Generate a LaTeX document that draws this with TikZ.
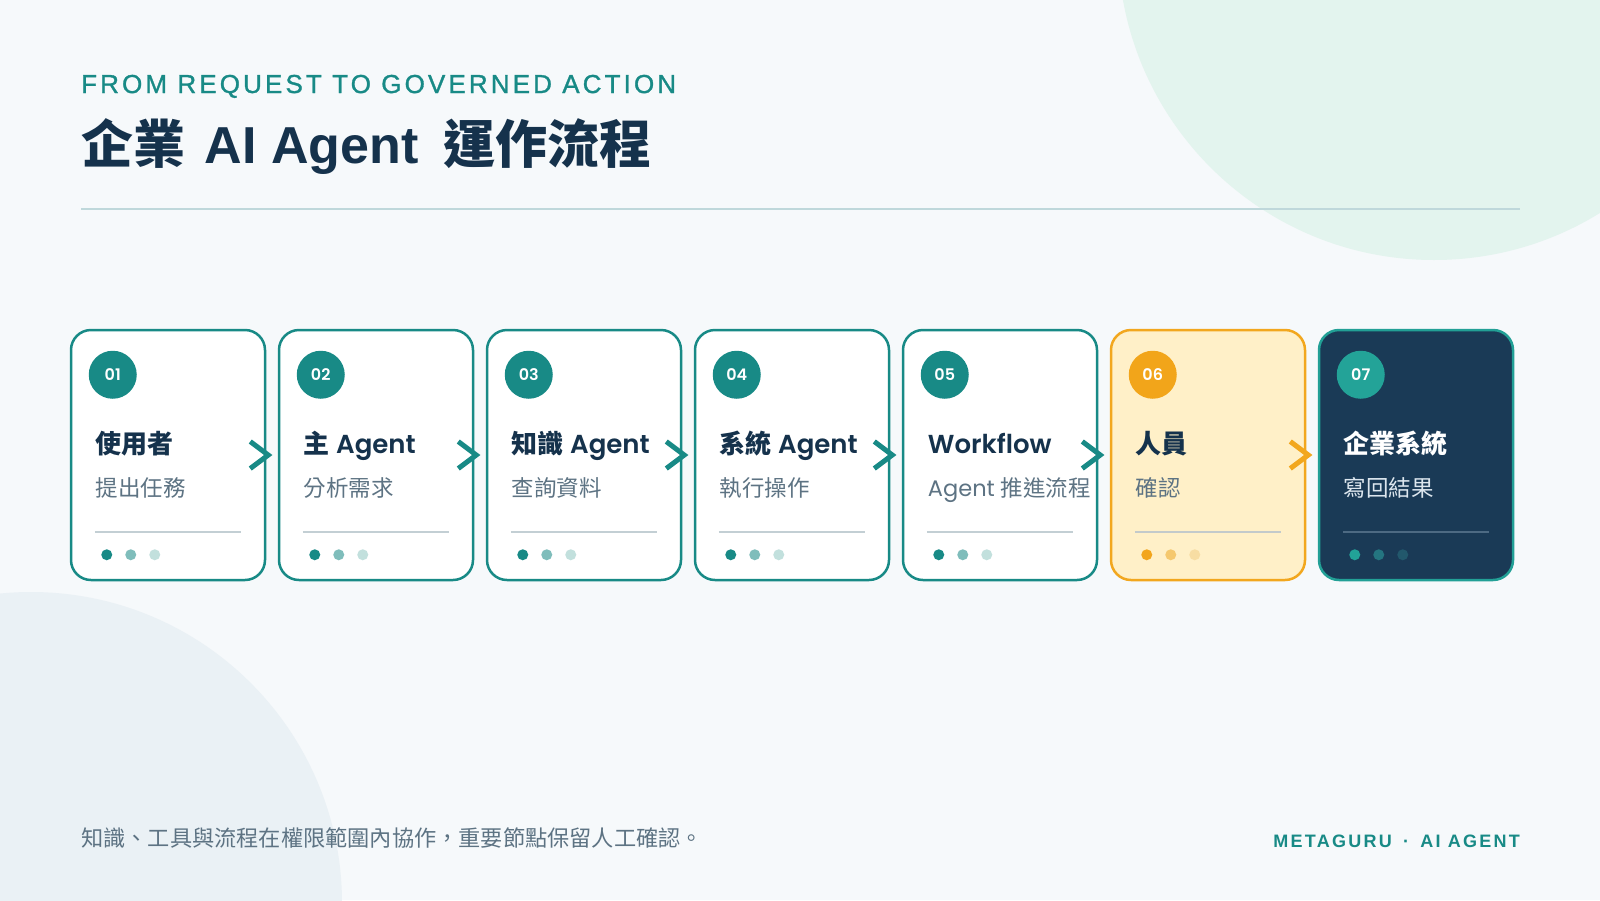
\documentclass[tikz,border=0pt]{standalone}
\usepackage{fontspec}
\setmainfont{Poppins}[BoldFont={Poppins SemiBold}]
\newfontfamily\cjk{Noto Sans CJK TC}
\newfontfamily\grot{Liberation Sans}
\newfontfamily\wide[LetterSpace=12,FakeBold=1.2]{Liberation Sans}
\newfontfamily\widebold[LetterSpace=12.5]{Liberation Sans Bold}
\newcommand\hanzi[1]{{\cjk #1}}
\usetikzlibrary{calc}

\definecolor{pagebg}{HTML}{F6F9FB}
\definecolor{mint}{HTML}{E3F4EE}
\definecolor{fog}{HTML}{EAF1F5}
\definecolor{flowteal}{HTML}{188A86}
\definecolor{navy}{HTML}{15324C}
\definecolor{subgray}{HTML}{5D7383}
\definecolor{headrule}{HTML}{BFD8DB}
\definecolor{amber}{HTML}{F2A71E}
% card themes
\definecolor{plain-line}{HTML}{188A86}\definecolor{plain-fill}{HTML}{FFFFFF}
\definecolor{plain-ring}{HTML}{188A86}\definecolor{plain-head}{HTML}{15324C}
\definecolor{plain-sub}{HTML}{5D7383}\definecolor{plain-rule}{HTML}{C3CFD4}
\definecolor{plain-d1}{HTML}{188A86}\definecolor{plain-d2}{HTML}{7FBDBB}
\definecolor{plain-d3}{HTML}{C2E0DD}
\definecolor{warm-line}{HTML}{F2A71E}\definecolor{warm-fill}{HTML}{FFF0C8}
\definecolor{warm-ring}{HTML}{F2A51A}\definecolor{warm-head}{HTML}{15324C}
\definecolor{warm-sub}{HTML}{5D7383}\definecolor{warm-rule}{HTML}{C3CACB}
\definecolor{warm-d1}{HTML}{F2A51C}\definecolor{warm-d2}{HTML}{F5C86E}
\definecolor{warm-d3}{HTML}{F7DDA3}
\definecolor{dark-line}{HTML}{22A096}\definecolor{dark-fill}{HTML}{1A3A56}
\definecolor{dark-ring}{HTML}{23A398}\definecolor{dark-head}{HTML}{FFFFFF}
\definecolor{dark-sub}{HTML}{DCE6EE}\definecolor{dark-rule}{HTML}{4D6A83}
\definecolor{dark-d1}{HTML}{22A398}\definecolor{dark-d2}{HTML}{247580}
\definecolor{dark-d3}{HTML}{22586C}

\tikzstyle{card}=[rounded corners=20pt,minimum width=194pt,minimum height=250pt,inner sep=0pt,line width=2.5pt]
\tikzstyle{badge}=[circle,minimum size=48pt,inner sep=0pt,text=white,font=\bfseries\fontsize{16}{16}\selectfont]
\tikzstyle{cardhead}=[anchor=base west,inner sep=0pt,font=\bfseries\fontsize{26}{26}\selectfont]
\tikzstyle{cardsub}=[anchor=base west,inner sep=0pt,font=\fontsize{22.5}{22.5}\selectfont]
\tikzstyle{dot}=[circle,minimum size=11pt,inner sep=0pt]
\tikzstyle{chev}=[line width=5pt]

\begin{document}
\begin{tikzpicture}[x=1pt,y=-1pt]
    \useasboundingbox (0,0) rectangle (1600,900);
    \fill[pagebg] (0,0) rectangle (1600,900);
    \begin{scope}
      \clip (0,0) rectangle (1600,900);
      \fill[mint] (1434,-56) circle (316);
      \fill[fog] (31,903) circle (311);
    \end{scope}
    % heading
    \node[anchor=base west,inner sep=0pt,text=flowteal,font=\wide\fontsize{26}{26}\selectfont]
      (kicker) at (81,93) {FROM REQUEST TO GOVERNED ACTION};
    \node[anchor=base west,inner sep=0pt,text=navy,font=\grot\bfseries\fontsize{52}{52}\selectfont]
      (title) at (81,163) {\hanzi{企業}\hspace{5pt} AI Agent \hspace{11pt}\hanzi{運作流程}};
    \coordinate (ruleL) at (81,209);
    \coordinate (ruleR) at (1520,209);
    \draw[headrule,line width=2pt] (ruleL) -- (ruleR);
    % the seven steps
    \foreach \nr/\ttl/\sbt/\tone [count=\n] in {
        01/{\hanzi{使用者}}/{\hanzi{提出任務}}/plain,
        02/{\hanzi{主} Agent}/{\hanzi{分析需求}}/plain,
        03/{\hanzi{知識} Agent}/{\hanzi{查詢資料}}/plain,
        04/{\hanzi{系統} Agent}/{\hanzi{執行操作}}/plain,
        05/{Workflow}/{Agent \hanzi{推進流程}}/plain,
        06/{\hanzi{人員}}/{\hanzi{確認}}/warm,
        07/{\hanzi{企業系統}}/{\hanzi{寫回結果}}/dark} {
      \node[card,draw=\tone-line,fill=\tone-fill] (c\n) at ({168+208*(\n-1)},455) {};
      \node[badge,fill=\tone-ring] (b\n) at ([shift={(43,46)}]c\n.north west) {\nr};
      \node[cardhead,text=\tone-head] (h\n) at ([shift={(26,125)}]c\n.north west) {\ttl};
      \node[cardsub,text=\tone-sub] (s\n) at ([shift={(26,168)}]c\n.north west) {\sbt};
      \coordinate (l\n) at ([shift={(25,203)}]c\n.north west);
      \coordinate (r\n) at ([shift={(171,203)}]c\n.north west);
      \draw[\tone-rule,line width=2pt] (l\n) -- (r\n);
      \foreach \d in {1,2,3}
        \node[dot,fill=\tone-d\d] (d\n\d) at ([shift={({13+24*\d},226)}]c\n.north west) {};
    }
    % chevrons between steps
    \foreach \n/\tone in {1/flowteal,2/flowteal,3/flowteal,4/flowteal,5/flowteal,6/amber}
      \draw[chev,\tone] ([shift={(-16,-13.5)}]c\n.east) -- ([xshift=2pt]c\n.east)
        -- ([shift={(-16,13.5)}]c\n.east);
    % footer
    \node[anchor=base west,inner sep=0pt,text=subgray,font=\fontsize{22.2}{22.2}\selectfont]
      (note) at (81,846) {\hanzi{知識、工具與流程在權限範圍內協作，重要節點保留人工確認。}};
    \node[anchor=base east,inner sep=0pt,text=flowteal,font=\widebold\fontsize{18}{18}\selectfont]
      (brand) at (1520,847) {METAGURU\hspace{4pt} · \hspace{4pt}AI AGENT};
\end{tikzpicture}
\end{document}
